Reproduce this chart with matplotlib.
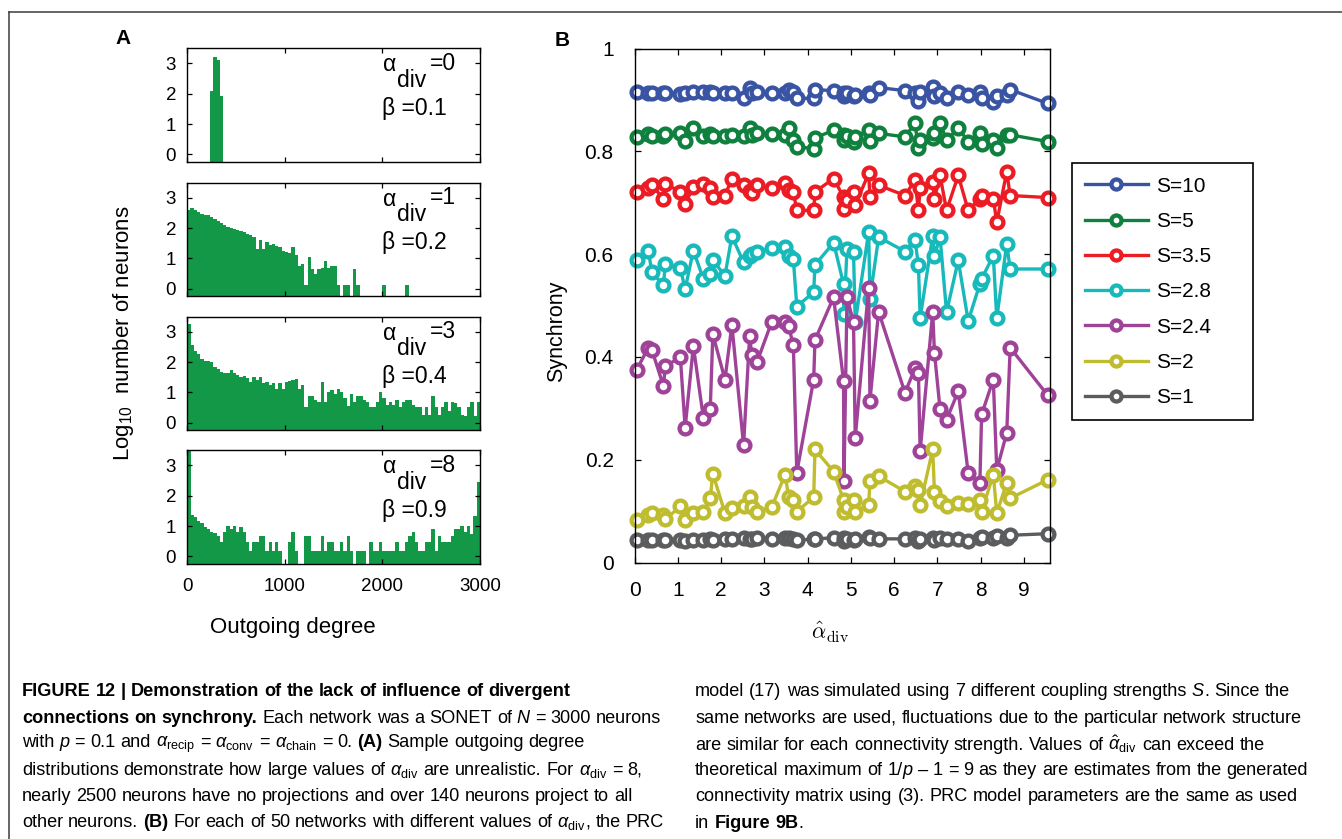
import numpy as np
import matplotlib
matplotlib.use("Agg")
import matplotlib.pyplot as plt
from matplotlib.lines import Line2D
from matplotlib.offsetbox import TextArea, HPacker, AnnotationBbox, DrawingArea
from matplotlib import font_manager

nan = np.nan

# ---------------- Panel A data: log10(number of neurons) per outgoing-degree bin ----------------
degree_bin_edges = np.linspace(0, 3000, 91)
alpha_div_values = ["0", "1", "3", "8"]
beta_values = ["0.1", "0.2", "0.4", "0.9"]

logcount_adiv0 = ([nan] * 7 + [2.09, 3.20, 3.13, 1.93] + [nan] * 79)

logcount_adiv1 = [2.60, 2.65, 2.60, 2.52, 2.47, 2.45, 2.44, 2.38, 2.30, 2.24,
                  2.18, 2.10, 2.05, 2.00, 1.98, 1.95, 1.92, 1.88, 1.82, 1.76,
                  1.70, 1.31, 1.62, 1.31, 1.54, 1.43, 1.46, 1.40, 1.37, 1.26,
                  1.22, 1.17, 1.37, 1.12, 0.75, 0.80, 0.13, 1.06, 0.64, 0.47,
                  0.64, 0.70, 0.90, 0.70, 0.75, 0.75, 0.13, nan, 0.13, 0.13,
                  nan, 0.64, 0.13, nan, nan, nan, nan, nan, nan, nan,
                  0.13, nan, nan, nan, nan, nan, nan, 0.13, nan, nan,
                  nan, nan, nan, nan, nan, nan, nan, nan, nan, nan,
                  nan, nan, nan, nan, nan, nan, nan, nan, nan, nan]

logcount_adiv3 = [3.25, 2.55, 2.38, 2.28, 2.11, 2.03, 2.03, 2.00, 1.84, 1.79,
                  1.68, 1.63, 1.63, 1.73, 1.63, 1.57, 1.52, 1.55, 1.46, 1.35,
                  1.52, 1.41, 1.52, 1.30, 1.35, 1.25, 1.30, 1.12, 1.30, 1.12,
                  1.35, 1.38, 1.41, 1.44, 1.12, 1.25, 0.51, 0.87, 0.87, 0.76,
                  0.70, 1.35, 0.70, 1.03, 1.08, 0.94, 1.12, 1.03, 0.81, 0.54,
                  0.94, 0.70, 0.87, 0.87, 0.76, 0.70, 0.51, 0.51, 0.70, 1.03,
                  0.81, 0.60, 0.70, 0.60, 0.76, 0.51, 0.70, 0.76, 0.76, 0.60,
                  0.51, 0.51, 0.27, 0.51, 0.27, 0.87, 0.51, 0.27, 0.51, 0.70,
                  0.38, 0.70, 0.65, 0.51, 0.27, 0.22, 0.51, 0.70, 0.22, 0.70]

logcount_adiv8 = [3.63, 1.36, 1.29, 1.18, 1.10, 0.96, 0.90, 0.79, 0.77, 0.68,
                  0.48, 0.79, 0.99, 0.90, 1.01, 0.79, 0.96, 0.79, 0.48, 0.19,
                  0.48, 0.48, 0.68, 0.68, 0.19, 0.48, 0.19, 0.48, 0.19, nan,
                  nan, 0.48, 0.79, 0.19, nan, nan, 0.68, 0.68, 0.19, 0.19,
                  0.19, 0.68, 0.19, 0.48, 0.48, 0.19, 0.19, 0.48, 0.19, 0.68,
                  0.19, nan, 0.19, 0.19, 0.19, nan, 0.48, 0.19, 0.19, 0.48,
                  0.19, 0.19, 0.19, 0.19, 0.48, 0.19, 0.19, 0.48, 0.68, 0.79,
                  0.48, 0.19, 0.19, 0.48, 0.48, 0.90, 0.19, 0.68, 0.48, 0.48,
                  0.48, 0.68, 0.90, 0.90, 0.99, 0.79, 1.01, 0.74, 1.34, 2.46]

# ---------------- Panel B data ----------------
alpha_hat_div = [0.05, 0.32, 0.40, 0.67, 0.71, 1.06, 1.17, 1.36, 1.59, 1.75,
                 1.81, 2.09, 2.25, 2.52, 2.66, 2.71, 2.83, 3.17, 3.48, 3.56,
                 3.67, 3.75, 4.14, 4.17, 4.60, 4.83, 4.84, 4.91, 5.06, 5.10,
                 5.41, 5.44, 5.64, 6.25, 6.48, 6.56, 6.60, 6.89, 6.93, 7.06,
                 7.21, 7.48, 7.71, 7.98, 8.02, 8.29, 8.37, 8.60, 8.68, 9.55]

sync_S10 = [0.915, 0.913, 0.913, 0.913, 0.913, 0.912, 0.913, 0.916, 0.915, 0.915,
            0.913, 0.913, 0.913, 0.903, 0.924, 0.913, 0.915, 0.913, 0.913, 0.920,
            0.915, 0.903, 0.903, 0.920, 0.918, 0.907, 0.913, 0.913, 0.907, 0.910,
            0.913, 0.910, 0.924, 0.918, 0.913, 0.898, 0.916, 0.926, 0.907, 0.913,
            0.903, 0.916, 0.910, 0.916, 0.903, 0.896, 0.907, 0.910, 0.920, 0.893]

sync_S5 = [0.828, 0.833, 0.830, 0.830, 0.833, 0.835, 0.820, 0.845, 0.830, 0.833,
           0.830, 0.830, 0.832, 0.830, 0.845, 0.832, 0.835, 0.833, 0.832, 0.845,
           0.822, 0.809, 0.805, 0.826, 0.841, 0.832, 0.822, 0.830, 0.819, 0.828,
           0.841, 0.820, 0.835, 0.828, 0.855, 0.806, 0.822, 0.825, 0.835, 0.855,
           0.822, 0.845, 0.819, 0.835, 0.815, 0.822, 0.806, 0.832, 0.832, 0.819]

sync_S3_5 = [0.721, 0.728, 0.734, 0.708, 0.737, 0.721, 0.698, 0.731, 0.737, 0.728,
             0.711, 0.714, 0.747, 0.734, 0.722, 0.718, 0.734, 0.728, 0.739, 0.724,
             0.721, 0.685, 0.685, 0.721, 0.747, 0.711, 0.688, 0.705, 0.721, 0.695,
             0.757, 0.711, 0.734, 0.714, 0.744, 0.685, 0.728, 0.741, 0.708, 0.753,
             0.685, 0.753, 0.685, 0.708, 0.714, 0.708, 0.662, 0.760, 0.714, 0.710]

sync_S2_8 = [0.588, 0.607, 0.565, 0.539, 0.581, 0.572, 0.532, 0.607, 0.552, 0.562,
             0.588, 0.558, 0.635, 0.584, 0.597, 0.600, 0.604, 0.612, 0.614, 0.596,
             0.590, 0.498, 0.526, 0.579, 0.622, 0.542, 0.484, 0.610, 0.604, 0.467,
             0.643, 0.513, 0.633, 0.605, 0.628, 0.578, 0.475, 0.636, 0.597, 0.633,
             0.487, 0.588, 0.470, 0.542, 0.552, 0.597, 0.475, 0.620, 0.571, 0.571]

sync_S2_4 = [0.375, 0.418, 0.414, 0.343, 0.382, 0.399, 0.262, 0.421, 0.282, 0.298,
             0.444, 0.356, 0.462, 0.228, 0.441, 0.403, 0.390, 0.468, 0.467, 0.460,
             0.423, 0.175, 0.356, 0.433, 0.516, 0.353, 0.158, 0.516, 0.467, 0.242,
             0.535, 0.315, 0.488, 0.330, 0.378, 0.369, 0.216, 0.488, 0.408, 0.298,
             0.278, 0.333, 0.174, 0.155, 0.288, 0.356, 0.180, 0.252, 0.418, 0.325]

sync_S2 = [0.083, 0.093, 0.096, 0.093, 0.084, 0.109, 0.083, 0.096, 0.099, 0.125,
           0.173, 0.096, 0.106, 0.109, 0.127, 0.108, 0.099, 0.108, 0.171, 0.128,
           0.122, 0.099, 0.127, 0.220, 0.177, 0.122, 0.099, 0.108, 0.122, 0.099,
           0.112, 0.158, 0.168, 0.138, 0.148, 0.141, 0.112, 0.220, 0.138, 0.119,
           0.109, 0.116, 0.114, 0.122, 0.099, 0.171, 0.096, 0.155, 0.125, 0.161]

sync_S1 = [0.044, 0.044, 0.043, 0.043, 0.044, 0.043, 0.042, 0.044, 0.044, 0.045,
           0.044, 0.045, 0.046, 0.047, 0.045, 0.046, 0.047, 0.046, 0.047, 0.048,
           0.045, 0.043, 0.046, 0.046, 0.048, 0.047, 0.042, 0.045, 0.044, 0.046,
           0.050, 0.047, 0.046, 0.046, 0.048, 0.042, 0.046, 0.048, 0.043, 0.047,
           0.046, 0.045, 0.042, 0.047, 0.050, 0.048, 0.052, 0.048, 0.053, 0.056]

series_labels = ["S=10", "S=5", "S=3.5", "S=2.8", "S=2.4", "S=2", "S=1"]
series_colors = ["#3a54a4", "#10803f", "#ec1c24", "#18b9ba", "#9f4399", "#bfbd2f", "#5b5c5e"]
series_values = [sync_S10, sync_S5, sync_S3_5, sync_S2_8, sync_S2_4, sync_S2, sync_S1]

# ---------------- figure ----------------
W, H = 1342, 839
plt.rcParams['font.family'] = ['Liberation Sans', 'DejaVu Sans']
plt.rcParams['mathtext.fontset'] = 'custom'
plt.rcParams['mathtext.rm'] = 'Liberation Sans'
plt.rcParams['mathtext.it'] = 'Liberation Sans:italic'
plt.rcParams['mathtext.bf'] = 'Liberation Sans:bold'

fig = plt.figure(figsize=(W / 100, H / 100), dpi=100)
fig.patch.set_facecolor('white')


def px_axes(l, t, r, b):
    return fig.add_axes([l / W, 1 - b / H, (r - l) / W, (b - t) / H])


def fpx(x, y):
    return (x / W, 1 - y / H)


# figure frame lines
fig.add_artist(Line2D([9 / W, 1], [1 - 11.5 / H] * 2, color='#3c3c3c', lw=1.1))
fig.add_artist(Line2D([9 / W, 9 / W], [0, 1 - 11.5 / H], color='#3c3c3c', lw=1.1))

GREEN = '#139848'
YMIN = -0.25
bin_w = degree_bin_edges[1] - degree_bin_edges[0]
bin_c = 0.5 * (degree_bin_edges[:-1] + degree_bin_edges[1:])
hist_data = [logcount_adiv0, logcount_adiv1, logcount_adiv3, logcount_adiv8]
tops = [48.3, 182.7, 316.7, 450.3]
for i, vals in enumerate(hist_data):
    ax = px_axes(187.3, tops[i], 480, tops[i] + 113.6)
    v = np.array(vals, dtype=float)
    m = ~np.isnan(v)
    ax.bar(bin_c[m], v[m] - YMIN, bottom=YMIN, width=bin_w * 1.04,
           color=GREEN, linewidth=0)
    ax.set_xlim(0, 3000)
    ax.set_ylim(YMIN, 3.5)
    ax.set_yticks([0, 1, 2, 3])
    ax.set_xticks([0, 1000, 2000, 3000])
    ax.tick_params(direction='in', top=True, right=True, length=3.5, width=0.9,
                   labelsize=13.5, pad=8)
    ax.tick_params(axis='x', pad=10)
    if i < 3:
        ax.tick_params(labelbottom=False)
    for s in ax.spines.values():
        s.set_linewidth(1.0)
    ax.text(0.668, 0.853, 'α', transform=ax.transAxes, fontsize=16.5, va='center', ha='left')
    ax.text(0.718, 0.72, 'div', transform=ax.transAxes, fontsize=16.5, va='center', ha='left')
    ax.text(0.83, 0.868, '=' + alpha_div_values[i], transform=ax.transAxes, fontsize=16.5,
            va='center', ha='left')
    ax.text(0.665, 0.47, 'β =' + beta_values[i], transform=ax.transAxes, fontsize=16.5,
            va='center', ha='left')

fig.text(*fpx(124, 333), r'Log$_{10}$  number of neurons', rotation=90, fontsize=16,
         ha='center', va='center')
fig.text(*fpx(293, 628), 'Outgoing degree', fontsize=16, ha='center', va='center')
fig.text(*fpx(123.3, 39), 'A', fontsize=15, fontweight='bold', ha='center', va='center')
fig.text(*fpx(562.5, 41), 'B', fontsize=15, fontweight='bold', ha='center', va='center')

# ---------------- Panel B ----------------
axB = px_axes(634.5, 48.5, 1050, 562.5)
handles = []
for lab, col, ys in zip(series_labels, series_colors, series_values):
    h, = axB.plot(alpha_hat_div, ys, '-o', color=col, lw=2.4, ms=8.5, mew=3.1,
                  mfc='white', mec=col, label=lab, clip_on=False)
    handles.append(h)
axB.set_xlim(0, 9.6)
axB.set_ylim(0, 1)
axB.set_xticks(range(10))
axB.set_yticks([0, 0.2, 0.4, 0.6, 0.8, 1])
axB.set_yticklabels(['0', '0.2', '0.4', '0.6', '0.8', '1'])
axB.tick_params(direction='in', top=True, right=True, length=4, width=0.9, labelsize=15)
axB.tick_params(axis='y', pad=15)
axB.tick_params(axis='x', pad=13)
for s in axB.spines.values():
    s.set_linewidth(1.0)

fig.text(*fpx(556.7, 331.5), 'Synchrony', rotation=90, fontsize=15.5, ha='center', va='center')
fig.text(*fpx(830, 632), r'$\hat{\alpha}_{\rm div}$', math_fontfamily='cm', fontsize=16,
         ha='center', va='center')

x0, y0 = fpx(1071.7, 163.3)
x1, y1 = fpx(1253, 448)
leg = fig.legend(handles=handles, loc='upper left',
                 bbox_to_anchor=(x0, y1, x1 - x0, y0 - y1), mode='expand',
                 borderaxespad=0, fontsize=15, handlelength=3.0, handletextpad=0.4,
                 borderpad=0.64, labelspacing=0.78, fancybox=False, framealpha=1,
                 edgecolor='black', markerscale=0.85)
leg.get_frame().set_linewidth(1.2)

# ---------------- caption ----------------
names = {f.name for f in font_manager.fontManager.ttflist}
CAP_FONT = 'Liberation Sans Narrow' if 'Liberation Sans Narrow' in names else 'Liberation Sans'
renderer = fig.canvas.get_renderer()
ref_line = "nearly 2500 neurons have no projections and over 140 neurons project to all"
t = fig.text(0, 0, ref_line, fontsize=10, family=CAP_FONT)
w10 = t.get_window_extent(renderer).width
t.remove()
CAP_FS = 10 * 614.0 / w10
t1 = fig.text(0, 0, 'a a', fontsize=CAP_FS, family=CAP_FONT)
t2 = fig.text(0, 0, 'aa', fontsize=CAP_FS, family=CAP_FONT)
space_px = t1.get_window_extent(renderer).width - t2.get_window_extent(renderer).width
t1.remove()
t2.remove()
space_pt = space_px * 72.0 / fig.dpi

A_RECIP = r'$\alpha_{\rm recip}$'
A_CONV = r'$\alpha_{\rm conv}$'
A_CHAIN = r'$\alpha_{\rm chain}$'
A_DIV = r'$\alpha_{\rm div}$'
AH_DIV = r'$\hat{\alpha}_{\rm div}$'

left_lines = [
    [('b', 'FIGURE 12 | Demonstration of the lack of influence of divergent')],
    [('b', 'connections on synchrony.'), ('n', ' Each network was a SONET of '), ('i', 'N'),
     ('n', ' = 3000 neurons')],
    [('n', 'with '), ('i', 'p'), ('n', ' = 0.1 and '), ('m', A_RECIP), ('n', ' = '), ('m', A_CONV),
     ('n', ' = '), ('m', A_CHAIN), ('n', ' = 0. '), ('b', '(A)'), ('n', ' Sample outgoing degree')],
    [('n', 'distributions demonstrate how large values of '), ('m', A_DIV),
     ('n', ' are unrealistic. For '), ('m', A_DIV), ('n', ' = 8,')],
    [('n', 'nearly 2500 neurons have no projections and over 140 neurons project to all')],
    [('n', 'other neurons. '), ('b', '(B)'), ('n', ' For each of 50 networks with different values of '),
     ('m', A_DIV), ('n', ', the PRC')],
]
right_lines = [
    [('n', 'model (17) was simulated using 7 different coupling strengths '), ('i', 'S'),
     ('n', '. Since the')],
    [('n', 'same networks are used, fluctuations due to the particular network structure')],
    [('n', 'are similar for each connectivity strength. Values of '), ('m', AH_DIV),
     ('n', ' can exceed the')],
    [('n', 'theoretical maximum of 1/'), ('i', 'p'), ('n', ' \u2013 1 = 9 as they are estimates from the generated')],
    [('n', 'connectivity matrix using (3). PRC model parameters are the same as used')],
    [('n', 'in '), ('b', 'Figure 9B'), ('n', '.')],
]


def spacer():
    return DrawingArea(space_pt, 1, 0, 0)


def caption_line(xp, yp, segs):
    kids = []
    for style, txt in segs:
        if style == 'm':
            kids.append(TextArea(txt, textprops=dict(fontsize=CAP_FS)))
            continue
        lead = txt.startswith(' ')
        trail = txt.endswith(' ')
        core = txt.strip()
        if lead:
            kids.append(spacer())
        if core:
            words = core.split(' ')
            props = dict(fontsize=CAP_FS, family=CAP_FONT)
            if style == 'b':
                props['fontweight'] = 'bold'
            if style == 'i':
                props['fontstyle'] = 'italic'
            for k, wd in enumerate(words):
                if k > 0:
                    kids.append(spacer())
                kids.append(TextArea(wd, textprops=props))
        if trail:
            kids.append(spacer())
    box = HPacker(children=kids, align='baseline', pad=0, sep=0)
    ab = AnnotationBbox(box, fpx(xp, yp), xycoords='figure fraction', box_alignment=(0, 0.5),
                        frameon=False, pad=0)
    fig.add_artist(ab)


LINE_DY = 26.2
for k, segs in enumerate(left_lines):
    caption_line(22, 692 + LINE_DY * k, segs)
for k, segs in enumerate(right_lines):
    caption_line(695, 692 + LINE_DY * k, segs)

fig.savefig('out.png', dpi=100)
